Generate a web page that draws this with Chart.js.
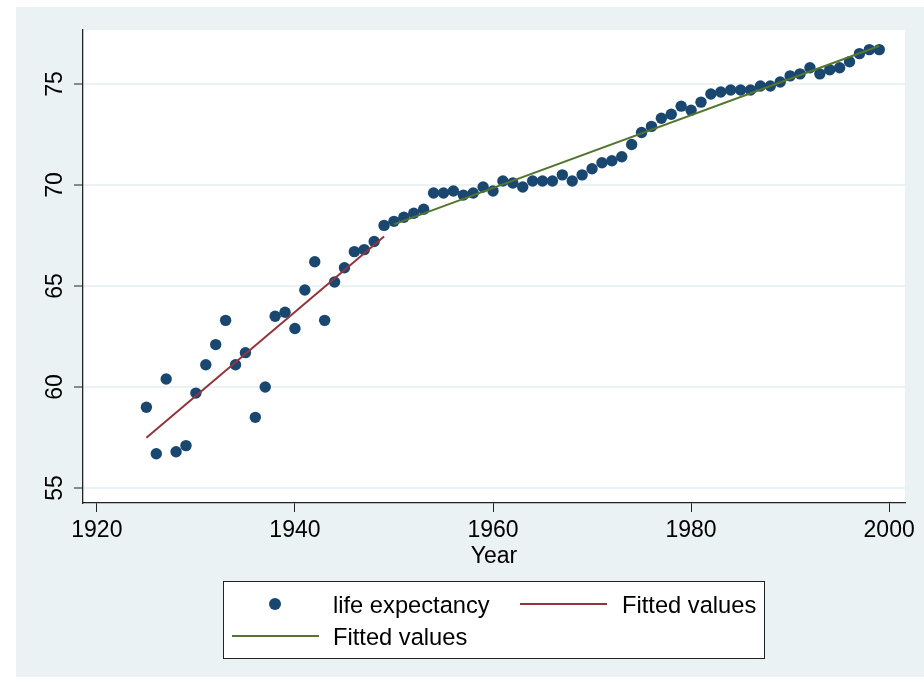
<!DOCTYPE html>
<html>
<head>
<meta charset="utf-8">
<script src="https://cdn.jsdelivr.net/npm/chart.js@4/dist/chart.umd.min.js"></script>
<style>
    html, body { margin: 0; padding: 0; background: #fff; }
    #wrap { width: 924px; height: 685px; }
</style>
</head>
<body>
<div id="wrap"><canvas id="chart" width="924" height="685"></canvas></div>
<script>
const years = [1925, 1926, 1927, 1928, 1929, 1930, 1931, 1932, 1933, 1934, 1935, 1936, 1937, 1938, 1939,
    1940, 1941, 1942, 1943, 1944, 1945, 1946, 1947, 1948, 1949, 1950, 1951, 1952, 1953, 1954,
    1955, 1956, 1957, 1958, 1959, 1960, 1961, 1962, 1963, 1964, 1965, 1966, 1967, 1968, 1969,
    1970, 1971, 1972, 1973, 1974, 1975, 1976, 1977, 1978, 1979, 1980, 1981, 1982, 1983, 1984,
    1985, 1986, 1987, 1988, 1989, 1990, 1991, 1992, 1993, 1994, 1995, 1996, 1997, 1998, 1999]
const lifeExp = [59, 56.7, 60.4, 56.8, 57.1, 59.7, 61.1, 62.1, 63.3, 61.1, 61.7, 58.5, 60, 63.5, 63.7,
    62.9, 64.8, 66.2, 63.3, 65.2, 65.9, 66.7, 66.8, 67.2, 68, 68.2, 68.4, 68.6, 68.8, 69.6,
    69.6, 69.7, 69.5, 69.6, 69.9, 69.7, 70.2, 70.1, 69.9, 70.2, 70.2, 70.2, 70.5, 70.2, 70.5,
    70.8, 71.1, 71.2, 71.4, 72, 72.6, 72.9, 73.3, 73.5, 73.9, 73.7, 74.1, 74.5, 74.6, 74.7,
    74.7, 74.7, 74.9, 74.9, 75.1, 75.4, 75.5, 75.8, 75.5, 75.7, 75.8, 76.1, 76.5, 76.7, 76.7]

// fitted lines, end points
const fitYearsEarly = [1925, 1949]
const fitEarly = [57.49, 67.45]
const fitYearsLate = [1950, 1999]
const fitLate = [68.05, 76.88]

const xTicks = [1920, 1940, 1960, 1980, 2000]
const yTicks = [55, 60, 65, 70, 75]

const navy = '#1a476f'
const maroon = '#90353b'
const olive = '#55752f'
const bg = '#eaf2f3'
const font = { family: '"Liberation Sans", Arial, sans-serif', size: 23 }
const legendFontSize = 23.7

const toPoints = (xs, ys) => xs.map((x, i) => ({ x: x, y: ys[i] }))

const background = {
    id: 'background',
    beforeDraw: (chart) => {
        const ctx = chart.ctx
        const a = chart.chartArea
        ctx.save()
        ctx.fillStyle = '#fff'
        ctx.fillRect(0, 0, chart.width, chart.height)
        ctx.fillStyle = bg
        ctx.fillRect(16, 7, chart.width - 16, 670)
        ctx.fillStyle = '#fff'
        ctx.fillRect(a.left, a.top, a.right - a.left, a.bottom - a.top)
        ctx.restore()
    },
}

// stata style legend box under the axis
const legendBox = {
    id: 'legendBox',
    afterDraw: (chart) => {
        const ctx = chart.ctx
        const ds = chart.data.datasets
        ctx.save()
        ctx.fillStyle = '#fff'
        ctx.fillRect(223, 581, 541, 77)
        ctx.strokeStyle = '#222'
        ctx.lineWidth = 1
        ctx.strokeRect(223.5, 581.5, 541, 77)

        ctx.font = `${legendFontSize}px ${font.family}`
        ctx.fillStyle = '#000'
        ctx.textBaseline = 'alphabetic'

        // row 1: markers + red line
        ctx.beginPath()
        ctx.fillStyle = ds[2].backgroundColor
        ctx.arc(275, 604, 6, 0, Math.PI * 2)
        ctx.fill()
        ctx.fillStyle = '#000'
        ctx.fillText(ds[2].label, 333, 613)

        ctx.strokeStyle = ds[0].borderColor
        ctx.lineWidth = 2
        ctx.beginPath()
        ctx.moveTo(520, 604)
        ctx.lineTo(607, 604)
        ctx.stroke()
        ctx.fillText(ds[0].label, 622, 613)

        // row 2: green line
        ctx.strokeStyle = ds[1].borderColor
        ctx.beginPath()
        ctx.moveTo(232, 636)
        ctx.lineTo(319, 636)
        ctx.stroke()
        ctx.fillText(ds[1].label, 333, 645)
        ctx.restore()
    },
}

new Chart(document.getElementById('chart'), {
    type: 'scatter',
    data: {
        datasets: [
            {
                type: 'line',
                label: 'Fitted values',
                data: toPoints(fitYearsEarly, fitEarly),
                borderColor: maroon,
                borderWidth: 2,
                pointRadius: 0,
                fill: false,
            },
            {
                type: 'line',
                label: 'Fitted values',
                data: toPoints(fitYearsLate, fitLate),
                borderColor: olive,
                borderWidth: 2,
                pointRadius: 0,
                fill: false,
            },
            {
                label: 'life expectancy',
                data: toPoints(years, lifeExp),
                backgroundColor: navy,
                borderColor: navy,
                borderWidth: 0,
                pointRadius: 5.7,
            },
        ],
    },
    options: {
        responsive: false,
        animation: false,
        layout: { padding: { top: 30, right: 19, bottom: 112, left: 0 } },
        plugins: {
            legend: { display: false },
            tooltip: { enabled: false },
        },
        scales: {
            x: {
                type: 'linear',
                min: 1918.6,
                max: 2001.6,
                afterBuildTicks: (scale) => { scale.ticks = xTicks.map((v) => ({ value: v })) },
                afterFit: (scale) => { scale.height = 70 },
                grid: { drawOnChartArea: false, tickLength: 9, tickColor: '#222', tickWidth: 1 },
                border: { color: '#222', width: 1.3 },
                ticks: { font: font, color: '#000', padding: 5, maxRotation: 0, callback: (v) => String(v) },
                title: { display: true, text: 'Year', font: font, color: '#000', padding: { top: 0, bottom: 3 } },
            },
            y: {
                type: 'linear',
                min: 54.26,
                max: 77.67,
                afterBuildTicks: (scale) => { scale.ticks = yTicks.map((v) => ({ value: v })) },
                afterFit: (scale) => { scale.width = 83 },
                grid: { color: bg, lineWidth: 2, tickLength: 9, tickColor: '#222', tickWidth: 1 },
                border: { color: '#222', width: 1.3 },
                ticks: { font: font, color: '#000', padding: 6, minRotation: 90, maxRotation: 90, crossAlign: 'center', callback: (v) => String(v) },
            },
        },
    },
    plugins: [background, legendBox],
})
</script>
</body>
</html>
